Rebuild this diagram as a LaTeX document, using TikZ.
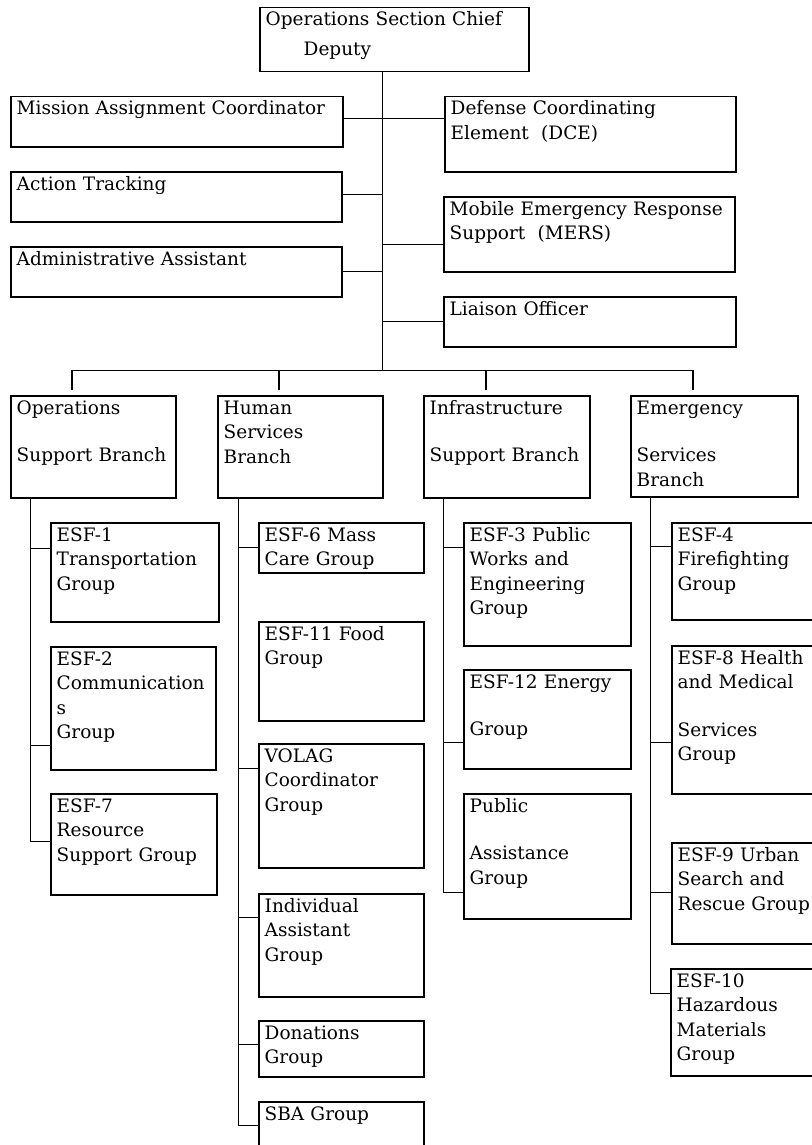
\documentclass[tikz,border=0pt]{standalone}
\usepackage{fontspec}
\setmainfont{DejaVu Serif}
\usetikzlibrary{calc}

% box outline, its text, and the connecting lines
\tikzset{
  obox/.style={draw, line width=1.5pt, inner sep=0pt, rectangle},
  otext/.style={inner sep=0pt, text width=420pt, align=left,
                font=\fontsize{18.5}{24.5}\selectfont},
  conn/.style={line width=1pt},
  tick/.style={line width=1.2pt},
}
% \orgbox{name}{left}{top}{width}{height}{text}
\newcommand\orgbox[6]{%
  \node[obox, minimum width=#4pt, minimum height=#5pt, anchor=north west] (#1) at (#2,#3) {};
  \node[otext, anchor=base west] (#1-t) at ([xshift=6.5pt,yshift=-19pt]#1.north west) {#6};
}
% \sublink{column top}{box}{drop below box top}
\newcommand\sublink[3]{%
  \draw[conn] ([yshift=-#3pt]#2.north west) -| (#1);
}
\newcommand\skipline{\\[23pt]}

\begin{document}
\begin{tikzpicture}[x=1pt,y=-1pt]
\useasboundingbox (0,0) rectangle (811,1145);

% head of the section
\orgbox{top}{259}{7}{269}{64}{Operations Section Chief\\[5.5pt]\hspace*{38pt}Deputy}

% staff positions
\orgbox{mac}{10}{96}{332}{50}{Mission Assignment Coordinator}
\orgbox{act}{10}{171}{331}{50}{Action Tracking}
\orgbox{adm}{10}{246}{331}{50}{Administrative Assistant}
\orgbox{dce}{444}{96}{291}{75}{Defense Coordinating\\Element\ \ (DCE)}
\orgbox{mers}{443}{196}{291}{75}{Mobile Emergency Response\\Support\ \ (MERS)}
\orgbox{lia}{443}{296}{292}{50}{Liaison Officer}

% branches
\orgbox{opsb}{10}{395}{165}{102}{Operations\skipline Support Branch}
\orgbox{hsb}{217}{395}{165}{102}{Human\\Services\\Branch}
\orgbox{isb}{423}{395}{166}{102}{Infrastructure\skipline Support Branch}
\orgbox{esb}{630}{395}{167}{101}{Emergency\skipline Services\\Branch}

% operations support groups
\orgbox{esf1}{50}{522}{168}{99}{ESF-1\\Transportation\\Group}
\orgbox{esf2}{50}{646}{165}{123}{ESF-2\\Communication\\s\\Group}
\orgbox{esf7}{50}{793}{166}{101}{ESF-7\\Resource\\Support Group}

% human services groups
\orgbox{esf6}{258}{522}{165}{50}{ESF-6 Mass\\Care Group}
\orgbox{esf11}{258}{621}{165}{99}{ESF-11 Food\\Group}
\orgbox{volag}{258}{743}{165}{124}{VOLAG\\Coordinator\\Group}
\orgbox{ind}{258}{893}{165}{103}{Individual\\Assistant\\Group}
\orgbox{don}{258}{1020}{165}{56}{Donations\\Group}
\orgbox{sba}{258}{1101}{165}{64}{SBA Group}

% infrastructure support groups
\orgbox{esf3}{463}{522}{167}{123}{ESF-3 Public\\Works and\\Engineering\\Group}
\orgbox{esf12}{463}{669}{167}{99}{ESF-12 Energy\skipline Group}
\orgbox{pa}{463}{793}{167}{125}{Public\skipline Assistance\\Group}

% emergency services groups
\orgbox{esf4}{671}{522}{145}{97}{ESF-4\\Firefighting\\Group}
\orgbox{esf8}{671}{645}{145}{148}{ESF-8 Health\\and Medical\skipline Services\\Group}
\orgbox{esf9}{671}{842}{145}{101}{ESF-9 Urban\\Search and\\Rescue Group}
\orgbox{esf10}{670}{968}{145}{107}{ESF-10\\Hazardous\\Materials\\Group}

% main trunk and branch bus
\coordinate (tk) at (382,370);
\coordinate (b1) at (72,370);
\coordinate (b2) at (279,370);
\coordinate (b3) at (486,370);
\coordinate (b4) at (693,370);
\draw[conn] (top.south -| tk) -- (tk);
\draw[conn] (b1) -- (b4);
\draw[tick] (b1) -- ($(b1 |- opsb.north)+(0,-5)$);
\draw[tick] (b2) -- ($(b2 |- hsb.north)+(0,-5)$);
\draw[tick] (b3) -- ($(b3 |- isb.north)+(0,-5)$);
\draw[tick] (b4) -- ($(b4 |- esb.north)+(0,-5)$);

% staff links
\draw[conn] ([yshift=-23pt]mac.north east) -- ([yshift=-23pt]dce.north west);
\draw[conn] ([yshift=-23pt]act.north east) -- ([yshift=-23pt]act.north east -| tk);
\draw[conn] ([yshift=-25pt]adm.north east) -- ([yshift=-25pt]adm.north east -| tk);
\draw[conn] ([yshift=-48pt]mers.north west) -- ([yshift=-48pt]mers.north west -| tk);
\draw[conn] ([yshift=-25pt]lia.north west) -- ([yshift=-25pt]lia.north west -| tk);

% branch columns
\coordinate (c1) at ([xshift=20pt]opsb.south west);
\coordinate (c2) at ([xshift=21pt]hsb.south west);
\coordinate (c3) at ([xshift=20pt]isb.south west);
\coordinate (c4) at ([xshift=20pt]esb.south west);

\sublink{c1}{esf1}{26}
\sublink{c1}{esf2}{99}
\sublink{c1}{esf7}{48}

\sublink{c2}{esf6}{25}
\sublink{c2}{volag}{25}
\sublink{c2}{ind}{24}
\sublink{c2}{don}{24}
\sublink{c2}{sba}{24}

\sublink{c3}{esf3}{25}
\sublink{c3}{esf12}{73}
\sublink{c3}{pa}{99}

\sublink{c4}{esf4}{24}
\sublink{c4}{esf8}{97}
\sublink{c4}{esf9}{50}
\sublink{c4}{esf10}{25}
\end{tikzpicture}
\end{document}
